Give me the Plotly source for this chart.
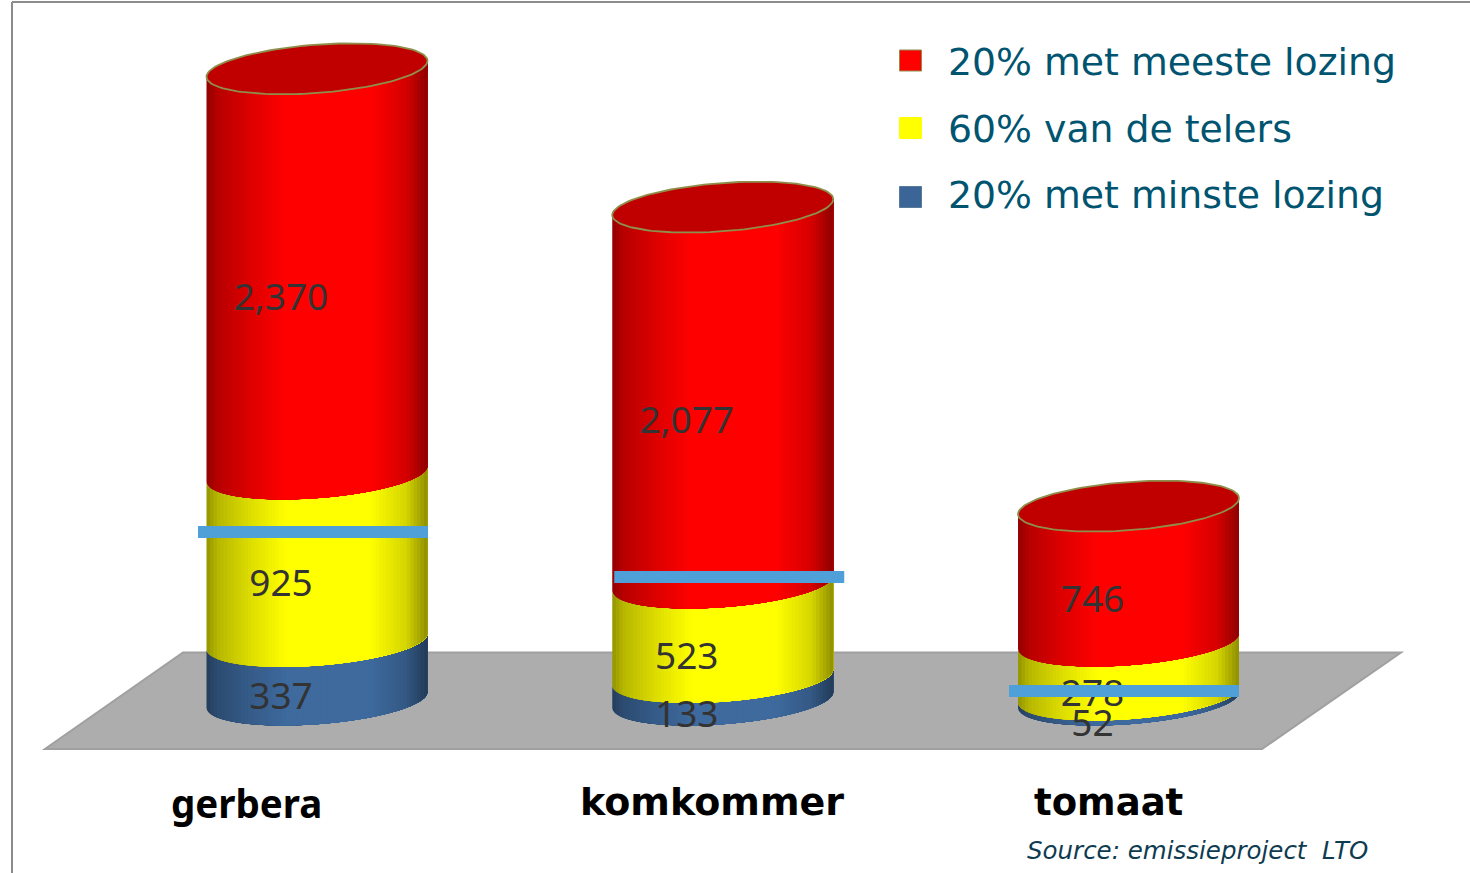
import numpy as np
import plotly.graph_objects as go

W, H = 1470, 873

# ---------- data ----------
categories = ["gerbera", "komkommer", "tomaat"]
series_names = ["20% met meeste lozing", "60% van de telers", "20% met minste lozing"]

# labels printed on the segments
labels_top = ["2,370", "2,077", "746"]
labels_mid = ["925", "523", "278"]
labels_low = ["337", "133", "52"]

# drawn segment heights (value units)
height_low = [329, 126, 28]
height_mid = [941, 531, 303]
height_top = [2276, 2112, 758]

# blue marker bar per crop: level, and horizontal shift in category units
marker_level = [944, 691, 51]
marker_shift = [-0.0099, 0.0160, -0.0111]

source_text = "Source: emissieproject  LTO"

# ---------- styles ----------
RED, YELLOW, BLUE = (255, 0, 0), (255, 255, 0), (62, 106, 158)
CAP = "#c00000"
CAP_LINE = "#8f8f4c"
MARKER = "#4fa0d9"
LABEL = "#333333"
LEGEND_TXT = "#005470"

# axis calibration
PX_PER_CAT = 405.75
PX_CAT0 = 317.0
PX_PER_VAL = 0.178
PY_ZERO = 700.0

x_range = [-PX_CAT0 / PX_PER_CAT, (W - PX_CAT0) / PX_PER_CAT]
y_range = [(PY_ZERO - H) / PX_PER_VAL, PY_ZERO / PX_PER_VAL]

A_PX, B_PX, D_PX = 110.5, 24.2, 8.0
a = A_PX / PX_PER_CAT
NSTRIP = 64
LAB_DX = -36 / PX_PER_CAT
LAB_DY = -29 / PX_PER_VAL
BAR_W = 230 / PX_PER_CAT


def shade(f):
    return np.interp(f, [0, 0.05, 0.2, 0.36, 0.74, 0.9, 1.0],
                     [0.58, 0.72, 0.87, 1.0, 1.0, 0.84, 0.56])


def arc(cx, level, t):
    """front or full ellipse points around a centre at a value level"""
    x = cx + a * np.cos(t)
    y = level - (-D_PX * np.cos(t) + B_PX * np.sin(t)) / PX_PER_VAL
    return x, y


fig = go.Figure()


def add_segment(cx, y0, y1, rgb):
    for i in range(NSTRIP):
        f = i / NSTRIP
        t0 = np.arccos(2 * f - 1)
        t = np.linspace(t0, 0, 30)
        xb, yb = arc(cx, y0, t)
        xt, yt = arc(cx, y1, t[::-1])
        s = shade((i + 0.5) / NSTRIP)
        c = "rgb(%d,%d,%d)" % tuple(int(v * s) for v in rgb)
        fig.add_trace(go.Scatter(
            x=np.r_[xb, xt], y=np.r_[yb, yt], mode="lines", fill="toself",
            fillcolor=c, line=dict(width=0), hoverinfo="skip", showlegend=False))


tops = []
for k in range(3):
    l0 = 0
    l1 = height_low[k]
    l2 = l1 + height_mid[k]
    l3 = l2 + height_top[k]
    add_segment(k, l0, l1, BLUE)
    add_segment(k, l1, l2, YELLOW)
    add_segment(k, l2, l3, RED)
    tt = np.linspace(0, 2 * np.pi, 120)
    xc, yc = arc(k, l3, tt)
    fig.add_trace(go.Scatter(x=xc, y=yc, mode="lines", fill="toself", fillcolor=CAP,
                             line=dict(color=CAP_LINE, width=1.8),
                             hoverinfo="skip", showlegend=False))
    tops.append((l0, l1, l2, l3))

# data labels, below the marker bars in the stacking order
label_font = dict(family="Noto Sans", size=37, color=LABEL)
for k in range(3):
    l0, l1, l2, l3 = tops[k]
    fig.add_trace(go.Scatter(
        x=[k + LAB_DX] * 3,
        y=[(l2 + l3) / 2 + LAB_DY, (l1 + l2) / 2 + LAB_DY, (l0 + l1) / 2 + LAB_DY],
        text=[labels_top[k], labels_mid[k], labels_low[k]],
        mode="text", textposition="middle center", textfont=label_font,
        hoverinfo="skip", showlegend=False))

# marker bars
for k in range(3):
    fig.add_trace(go.Scatter(
        x=[k + marker_shift[k] - BAR_W / 2, k + marker_shift[k] + BAR_W / 2],
        y=[marker_level[k]] * 2, mode="lines",
        line=dict(color=MARKER, width=12), hoverinfo="skip", showlegend=False))


def px(v):
    return v / W


def py(v):
    return 1 - v / H


shapes = [
    dict(type="path", xref="paper", yref="paper", layer="below",
         path="M %f %f L %f %f L %f %f L %f %f Z" % (
             px(183), py(652.5), px(1401), py(652.5), px(1262), py(749), px(45), py(749)),
         fillcolor="#adadad", line=dict(color="#a0a0a0", width=2)),
    dict(type="line", xref="paper", yref="paper", layer="below",
         x0=px(12), x1=px(12), y0=py(2), y1=py(873), line=dict(color="#8c8c8c", width=2)),
    dict(type="line", xref="paper", yref="paper", layer="below",
         x0=px(12), x1=px(1470), y0=py(2), y1=py(2), line=dict(color="#8c8c8c", width=2)),
]

legend_colors = ["#ff0000", "#ffff00", "#3b6596"]
legend_edges = ["#8f8f4c", "#ffff00", "#5a7a9a"]
legend_y = [60.5, 128.0, 197.0]
legend_ty = [62.0, 128.5, 195.5]
annotations = []
for name, c, e, ys, yt in zip(series_names, legend_colors, legend_edges, legend_y, legend_ty):
    shapes.append(dict(type="rect", xref="paper", yref="paper",
                       x0=px(899.5), x1=px(921.5), y0=py(ys - 10.5), y1=py(ys + 10.5),
                       fillcolor=c, line=dict(color=e, width=1)))
    annotations.append(dict(xref="paper", yref="paper", x=px(945.5), y=py(yt), text=name,
                            showarrow=False, xanchor="left", yanchor="middle",
                            font=dict(family="DejaVu Sans", size=37.8, color=LEGEND_TXT)))

cat_pos = [(246.5, 803, "Noto Sans", 38.5), (712, 802, "DejaVu Sans", 38), (1108, 802, "DejaVu Sans", 37)]
for name, (cx, cy, fam, size) in zip(categories, cat_pos):
    annotations.append(dict(xref="paper", yref="paper", x=px(cx), y=py(cy), text="<b>%s</b>" % name,
                            showarrow=False, xanchor="center", yanchor="middle",
                            font=dict(family=fam, size=size, color="#000000")))

annotations.append(dict(xref="paper", yref="paper", x=px(1025), y=py(850),
                        text="<i>%s</i>" % source_text, showarrow=False,
                        xanchor="left", yanchor="middle",
                        font=dict(family="DejaVu Sans", size=24.5, color="#0e3b50")))

fig.update_layout(
    width=W, height=H, margin=dict(l=0, r=0, t=0, b=0),
    paper_bgcolor="white", plot_bgcolor="rgba(0,0,0,0)", showlegend=False,
    xaxis=dict(range=x_range, visible=False, fixedrange=True),
    yaxis=dict(range=y_range, visible=False, fixedrange=True),
    shapes=shapes, annotations=annotations,
)

fig.write_html("out.html", config=dict(displayModeBar=False),
               post_script="document.body.style.margin='0';document.body.style.overflow='hidden';")
